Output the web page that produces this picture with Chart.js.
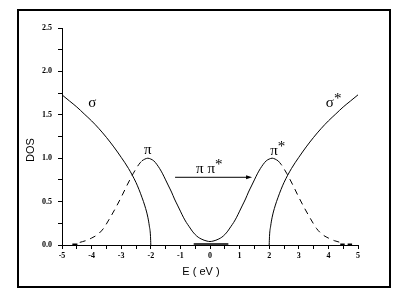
<!DOCTYPE html>
<html>
<head>
<meta charset="utf-8">
<script src="https://cdn.jsdelivr.net/npm/chart.js@4/dist/chart.umd.min.js"></script>
<style>
  html,body{margin:0;padding:0;background:#fff;}
  canvas{display:block;}
</style>
</head>
<body>
<canvas id="dos" width="393" height="307"></canvas>
<script>
// sigma band (left) and sigma* band (right)
const sigmaX = [-5, -4.75, -4.5, -4.25, -4, -3.75, -3.5, -3.25, -3, -2.75, -2.5, -2.4, -2.3, -2.2, -2.1, -2.05, -2.01, -2];
const sigmaY = [1.73, 1.66, 1.59, 1.51, 1.43, 1.34, 1.24, 1.13, 1.01, 0.88, 0.72, 0.64, 0.55, 0.45, 0.32, 0.22, 0.1, 0];
const sigmaStarX = [2, 2.01, 2.05, 2.1, 2.2, 2.3, 2.4, 2.5, 2.75, 3, 3.25, 3.5, 3.75, 4, 4.25, 4.5, 4.75, 5];
const sigmaStarY = [0, 0.1, 0.22, 0.32, 0.45, 0.55, 0.64, 0.72, 0.88, 1.01, 1.13, 1.24, 1.34, 1.43, 1.51, 1.59, 1.66, 1.73];

// pi / pi* band, solid middle part
const piX = [-2.3, -2.2, -2.1, -2.0, -1.9, -1.8, -1.7, -1.6, -1.5, -1.4, -1.3, -1.2, -1.1, -1.0, -0.9, -0.8, -0.7, -0.6, -0.5, -0.4, -0.3, -0.2, -0.1, 0,
             0.1, 0.2, 0.3, 0.4, 0.5, 0.6, 0.7, 0.8, 0.9, 1.0, 1.1, 1.2, 1.3, 1.4, 1.5, 1.6, 1.7, 1.8, 1.9, 2.0, 2.1, 2.2, 2.3];
const piY = [0.97, 0.99, 1.0, 0.99, 0.97, 0.93, 0.88, 0.82, 0.75, 0.68, 0.61, 0.53, 0.46, 0.39, 0.32, 0.26, 0.21, 0.16, 0.12, 0.09, 0.07, 0.055, 0.045, 0.04,
             0.045, 0.055, 0.07, 0.09, 0.12, 0.16, 0.21, 0.26, 0.32, 0.39, 0.46, 0.53, 0.61, 0.68, 0.75, 0.82, 0.88, 0.93, 0.97, 0.99, 1.0, 0.99, 0.97];

// dashed outer tails
const tailLeftX = [-4.4, -4.2, -4.0, -3.8, -3.6, -3.4, -3.2, -3.0, -2.8, -2.6, -2.4, -2.3];
const tailLeftY = [0.03, 0.05, 0.08, 0.12, 0.19, 0.3, 0.42, 0.55, 0.69, 0.82, 0.93, 0.97];
const tailRightX = [2.3, 2.4, 2.6, 2.8, 3.0, 3.2, 3.4, 3.6, 3.8, 4.0, 4.2, 4.4];
const tailRightY = [0.97, 0.93, 0.82, 0.69, 0.55, 0.42, 0.3, 0.19, 0.12, 0.08, 0.05, 0.03];

// short heavy marks lying on the baseline
const baseX = [-4.65, -4.48, null, -0.55, 0.62, null, 4.4, 4.55, null, 4.65, 4.8];
const baseY = [0.01, 0.01, null, 0.012, 0.012, null, 0.01, 0.01, null, 0.01, 0.01];

const yTicks = ['0.0', '0.5', '1.0', '1.5', '2.0', '2.5'];

function pts(xs, ys) {
  return xs.map((x, i) => x === null ? {x: NaN, y: null} : {x: x, y: ys[i]});
}

const lineStyle = {borderColor: '#000', borderWidth: 1, pointRadius: 0, fill: false, cubicInterpolationMode: 'monotone'};

const decor = {
  id: 'decor',
  afterDraw(chart) {
    const c = chart.ctx, xs = chart.scales.x, ys = chart.scales.y;
    const X = v => xs.getPixelForValue(v), Y = v => ys.getPixelForValue(v);
    c.save();
    // outer frame
    c.strokeStyle = '#000'; c.lineWidth = 2;
    c.strokeRect(18, 10, 372, 277);
    // axis titles
    c.fillStyle = '#000';
    c.font = '11px "Liberation Sans", Arial, sans-serif';
    c.textAlign = 'center'; c.textBaseline = 'middle';
    c.fillText('E ( eV )', 201, 272);
    c.save(); c.translate(31, 150); c.rotate(-Math.PI / 2); c.fillText('DOS', 0, 0); c.restore();
    // band labels
    c.font = '15px "Liberation Serif", "Times New Roman", serif';
    const lab = (t, x, y, star) => {
      c.textAlign = 'center';
      c.fillText(t, X(x), Y(y));
      if (star) {
        const w = c.measureText(t).width;
        c.textAlign = 'left';
        c.fillText('*', X(x) + w / 2, Y(y) - 4);
      }
    };
    lab('σ', -3.98, 1.64, false);
    lab('π', -2.1, 1.09, false);
    lab('π', 2.16, 1.08, true);
    lab('σ', 4.05, 1.64, true);
    c.textAlign = 'center';
    c.fillText('π π', X(-0.15), Y(0.87));
    c.textAlign = 'left';
    c.fillText('*', X(-0.15) + c.measureText('π π').width / 2, Y(0.87) - 4);
    // arrow
    c.lineWidth = 1;
    c.beginPath(); c.moveTo(X(-1.18), Y(0.78)); c.lineTo(X(1.32), Y(0.78)); c.stroke();
    c.beginPath();
    c.moveTo(X(1.42), Y(0.78));
    c.lineTo(X(1.42) - 6, Y(0.78) - 2);
    c.lineTo(X(1.42) - 6, Y(0.78) + 2);
    c.closePath(); c.fill();
    c.restore();
  }
};

new Chart(document.getElementById('dos'), {
  type: 'line',
  data: {
    datasets: [
      {...lineStyle, data: pts(sigmaX, sigmaY)},
      {...lineStyle, data: pts(sigmaStarX, sigmaStarY)},
      {...lineStyle, data: pts(piX, piY)},
      {...lineStyle, borderDash: [6, 5], data: pts(tailLeftX, tailLeftY)},
      {...lineStyle, borderDash: [6, 5], data: pts(tailRightX, tailRightY)},
      {...lineStyle, borderWidth: 1.5, cubicInterpolationMode: 'default', tension: 0, spanGaps: false, data: pts(baseX, baseY)}
    ]
  },
  options: {
    responsive: false,
    animation: false,
    layout: {padding: {left: 0, right: 35, top: 28, bottom: 0}},
    plugins: {legend: {display: false}, tooltip: {enabled: false}},
    scales: {
      x: {
        type: 'linear', min: -5, max: 5,
        afterFit: s => { s.height = 62; },
        border: {display: true, color: '#000', width: 1},
        grid: {display: true, drawOnChartArea: false, drawTicks: true, tickLength: 4, color: '#000', tickColor: '#000'},
        ticks: {
          stepSize: 0.5, autoSkip: false, maxRotation: 0, color: '#000', padding: 2,
          font: {family: '"Liberation Serif", serif', size: 8, weight: 'bold'},
          callback: v => Number.isInteger(v) ? String(v) : ''
        }
      },
      y: {
        type: 'linear', min: 0, max: 2.5,
        afterFit: s => { s.width = 62; },
        border: {display: true, color: '#000', width: 1},
        grid: {display: true, drawOnChartArea: false, drawTicks: true, tickLength: 4, color: '#000', tickColor: '#000'},
        ticks: {
          stepSize: 0.25, autoSkip: false, color: '#000', padding: 6,
          font: {family: '"Liberation Serif", serif', size: 8, weight: 'bold'},
          callback: v => {
            const k = Math.round(v * 2);
            return Math.abs(v * 2 - k) < 1e-6 ? yTicks[k] : '';
          }
        }
      }
    }
  },
  plugins: [decor]
});
</script>
</body>
</html>
